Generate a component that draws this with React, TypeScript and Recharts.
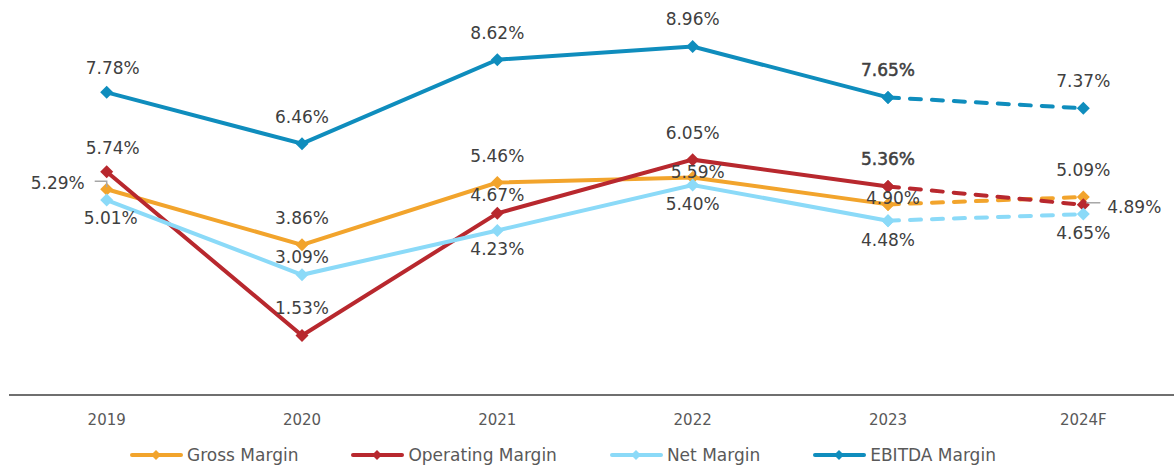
import { LineChart, Line, XAxis, YAxis, Legend, LabelList } from 'recharts';

const years = ['2019', '2020', '2021', '2022', '2023', '2024F'];
const grossMargin = [5.29, 3.86, 5.46, 5.59, 4.9, 5.09];
const operatingMargin = [5.74, 1.53, 4.67, 6.05, 5.36, 4.89];
const netMargin = [5.01, 3.09, 4.23, 5.4, 4.48, 4.65];
const ebitdaMargin = [7.78, 6.46, 8.62, 8.96, 7.65, 7.37];

// last actual year; the forecast segment is drawn dashed from here on
const LAST_ACTUAL = 4;

type Place =
  | 'above'
  | 'aboveBold'
  | 'aboveR'
  | 'aboveNear'
  | 'below'
  | 'belowR'
  | 'centerUp'
  | 'left'
  | 'right';

const SERIES = [
  {
    key: 'gross',
    name: 'Gross Margin',
    color: '#F2A42C',
    values: grossMargin,
    places: ['left', 'above', 'above', 'centerUp', 'centerUp', 'above'] as Place[]
  },
  {
    key: 'operating',
    name: 'Operating Margin',
    color: '#B8282E',
    values: operatingMargin,
    places: ['aboveR', 'above', 'aboveNear', 'above', 'aboveBold', 'right'] as Place[]
  },
  {
    key: 'net',
    name: 'Net Margin',
    color: '#8BDAF8',
    values: netMargin,
    places: ['belowR', 'aboveNear', 'below', 'below', 'below', 'below'] as Place[]
  },
  {
    key: 'ebitda',
    name: 'EBITDA Margin',
    color: '#0F8DBD',
    values: ebitdaMargin,
    places: ['aboveR', 'above', 'above', 'above', 'aboveBold', 'above'] as Place[]
  }
];

const data = years.map((year, i) => {
  const row: Record<string, string | number | null> = { year };
  SERIES.forEach((s) => {
    row[s.key] = i <= LAST_ACTUAL ? s.values[i] : null;
    row[`${s.key}F`] = i >= LAST_ACTUAL ? s.values[i] : null;
  });
  return row;
});

const FONT = '"DejaVu Sans", Verdana, sans-serif';
const LABEL_COLOR = '#404040';
// half a category band, so points sit in the middle of each slot
const HALF_BAND = 97.7;

const OFFSETS: Record<Place, [number, number]> = {
  above: [0, -27],
  aboveBold: [0, -27],
  aboveR: [6, -24],
  aboveNear: [0, -18],
  below: [0, 19],
  belowR: [4, 18],
  centerUp: [5, -6],
  left: [-49, -6],
  right: [51, 2]
};

const Diamond = (color: string, size = 6.5) => (props: any) => {
  const { cx, cy, payload, index } = props;
  if (cx == null || cy == null || payload == null) return <g key={index} />;
  return (
    <polygon
      key={index}
      points={`${cx},${cy - size} ${cx + size},${cy} ${cx},${cy + size} ${cx - size},${cy}`}
      fill={color}
    />
  );
};

const makeLabel = (places: Place[], skip: number[]) => (props: any) => {
  const { x, y, value, index } = props;
  if (value == null || skip.includes(index)) return null;
  const place = places[index];
  const [dx, dy] = OFFSETS[place];
  return (
    <g key={index}>
      {place === 'left' && (
        <polyline
          points={`${x - 12},${y - 8} ${x},${y - 8} ${x},${y - 2}`}
          fill="none"
          stroke="#A6A6A6"
          strokeWidth={1.5}
        />
      )}
      {place === 'right' && (
        <line x1={x + 3} y1={y - 2} x2={x + 17} y2={y - 2} stroke="#A6A6A6" strokeWidth={1.5} />
      )}
      <text
        x={x + dx}
        y={y + dy}
        textAnchor="middle"
        dominantBaseline="central"
        fill={LABEL_COLOR}
        stroke={place === 'aboveBold' ? LABEL_COLOR : 'none'}
        strokeWidth={0.5}
        fontSize={17}
        fontFamily={FONT}
      >
        {`${Number(value).toFixed(2)}%`}
      </text>
    </g>
  );
};

const LegendContent = () => (
  <div
    style={{
      display: 'flex',
      justifyContent: 'center',
      gap: 53,
      paddingRight: 64,
      height: 20,
      lineHeight: '20px',
      fontFamily: FONT,
      fontSize: 17,
      color: '#595959'
    }}
  >
    {SERIES.map((s) => (
      <div key={s.key} style={{ display: 'flex', alignItems: 'center', gap: 4 }}>
        <svg width={53} height={14}>
          <line x1={2} y1={7} x2={51} y2={7} stroke={s.color} strokeWidth={4} strokeLinecap="round" />
          <polygon points="26,2 31,7 26,12 21,7" fill={s.color} />
        </svg>
        <span>{s.name}</span>
      </div>
    ))}
  </div>
);

export default function App() {
  return (
    <div
      style={{
        position: 'absolute',
        left: 0,
        top: 0,
        width: 1174,
        height: 465,
        overflow: 'hidden',
        background: '#fff'
      }}
    >
      <LineChart width={1190} height={470} data={data} margin={{ top: 6, right: 9, left: 9, bottom: 5 }}>
        <XAxis
          dataKey="year"
          height={50}
          padding={{ left: HALF_BAND, right: HALF_BAND }}
          tickLine={false}
          axisLine={{ stroke: '#3F3F3F', strokeWidth: 1.5 }}
          tick={{ fill: '#595959', fontSize: 15, fontFamily: FONT }}
          tickMargin={13}
        />
        <YAxis hide domain={[0, 10]} />
        <Legend verticalAlign="bottom" content={<LegendContent />} />
        {SERIES.map((s) => (
          <Line
            key={s.key}
            dataKey={s.key}
            name={s.name}
            stroke={s.color}
            strokeWidth={4}
            dot={Diamond(s.color)}
            activeDot={false}
            isAnimationActive={false}
            connectNulls={false}
          >
            <LabelList dataKey={s.key} content={makeLabel(s.places, [])} />
          </Line>
        ))}
        {SERIES.map((s) => (
          <Line
            key={`${s.key}F`}
            dataKey={`${s.key}F`}
            name={`${s.name} (F)`}
            legendType="none"
            stroke={s.color}
            strokeWidth={4}
            strokeDasharray="11 11"
            strokeLinecap="round"
            dot={Diamond(s.color)}
            activeDot={false}
            isAnimationActive={false}
          >
            <LabelList dataKey={`${s.key}F`} content={makeLabel(s.places, [LAST_ACTUAL])} />
          </Line>
        ))}
      </LineChart>
    </div>
  );
}
